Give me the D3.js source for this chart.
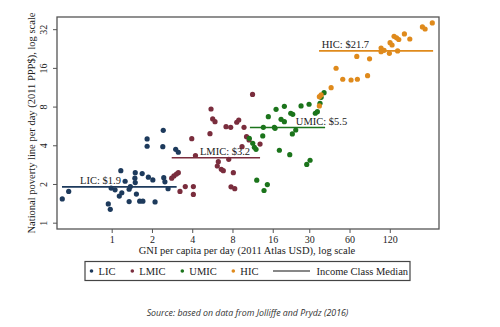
<!DOCTYPE html>
<html><head><meta charset="utf-8">
<script src="https://cdn.jsdelivr.net/npm/d3@7"></script>
<style>body{margin:0;background:#fff;}svg{display:block;}</style>
</head><body>
<svg id="c" width="500" height="327"></svg>
<script>
// GNI per capita per day (x), national poverty line per day (y)
const licX = [0.427,0.477,0.943,0.976,0.99,1.06,1.17,1.14,1.19,1.26,1.35,1.35,1.38,1.50,1.49,1.50,1.53,1.62,1.71,1.69,1.88,2.03,2.11,1.84,1.84,2.43,2.41,2.45,2.50,2.64,3.01,3.15];
const licY = [1.53,1.75,1.40,1.27,1.86,1.80,2.54,1.61,1.71,2.10,1.46,1.82,1.91,2.45,2.22,2.05,1.67,1.47,1.47,2.41,2.26,2.15,1.45,4.48,3.93,5.23,3.90,2.24,2.08,1.84,3.72,3.53];
const lmicX = [2.81,2.92,3.05,3.15,3.24,3.55,4.08,4.08,4.23,3.97,5.43,5.53,5.69,5.92,6.27,6.16,6.60,6.83,7.50,7.16,7.76,8.61,8.91,8.12,7.80,8.32,9.43,9.76,10.19,10.64,11.30,12.86];
const lmicY = [2.22,2.31,2.39,2.45,1.75,1.91,1.91,1.66,3.33,4.50,4.92,7.66,6.41,6.10,2.98,2.76,2.60,2.54,3.11,5.58,5.52,6.04,6.29,2.45,1.90,1.84,3.90,5.52,4.67,4.40,9.94,4.09];
const umicX = [10.69,11.34,11.66,12.0,13.47,13.61,14.83,16.45,16.94,17.93,18.46,19.54,19.54,21.44,21.81,22.58,22.42,23.77,26.05,28.73,29.9,30.42,33.3,34.5,36.1,36.8,38.7,12.15,14.58,13.77,16.65];
const umicY = [4.53,4.15,3.86,3.72,4.73,5.52,6.68,5.52,7.62,3.66,6.37,6.10,8.04,3.38,7.10,6.97,4.90,5.26,8.09,2.84,8.34,3.06,7.10,7.30,8.49,9.45,10.26,2.14,1.98,1.78,5.42];
const hicX = [35.7,36.8,35.7,43.7,47.6,53.4,61.6,68.7,81.9,68.0,84.7,103.3,103.3,108.8,119.2,137.3,120.6,124.8,129.2,134.9,140.1,154.3,169.4,210.4,220.4,249.5];
const hicY = [9.55,9.85,8.09,11.22,15.89,13.05,12.88,13.05,13.91,19.63,18.83,22.85,21.39,21.93,20.78,21.66,25.13,24.11,28.18,27.43,26.61,29.37,26.85,33.3,32.1,35.8];

const classNames = ["LIC","LMIC","UMIC","HIC"];
const classColors = ["#1d3a5c","#7a2d3d","#1b741b","#df8a1c"];
const medians = [1.9,3.2,5.5,21.7];
const medianLabels = ["LIC: $1.9","LMIC: $3.2","UMIC: $5.5","HIC: $21.7"];
const medianFrom = [0.425,2.81,10.8,35.5];
const medianTo = [3.06,12.86,39.4,253];
const xTicks = [1,2,4,8,16,30,60,120];
const yTicks = [1,2,4,8,16,32];

const svg = d3.select("#c");
const L=57,T=17,R=439,B=229;
const x = d3.scaleLog().domain([0.39,280]).range([L,R]);
const y = d3.scaleLog().domain([0.893,39.8]).range([B,T]);
const serif = "'Liberation Serif','Times New Roman',serif";

// frame
svg.append("rect").attr("x",L).attr("y",T).attr("width",R-L).attr("height",B-T)
  .attr("fill","none").attr("stroke","#555").attr("stroke-width",1.3);

// x axis
const xa = svg.append("g").attr("transform",`translate(0,${B})`)
  .call(d3.axisBottom(x).tickValues(xTicks).tickFormat(d3.format("d")).tickSize(4).tickPadding(3));
xa.select(".domain").remove();
xa.selectAll("line").attr("stroke","#555");
xa.selectAll("text").attr("font-family",serif).attr("font-size",10).attr("fill","#222");

// y axis
const ya = svg.append("g").attr("transform",`translate(${L},0)`)
  .call(d3.axisLeft(y).tickValues(yTicks).tickFormat(d3.format("d")).tickSize(4));
ya.select(".domain").remove();
ya.selectAll("line").attr("stroke","#555");
ya.selectAll("text").attr("font-family",serif).attr("font-size",10).attr("fill","#222")
  .attr("x",null).attr("dy",null)
  .attr("text-anchor","middle")
  .attr("transform","translate(-10,0) rotate(-90)");

// axis titles
svg.append("text").attr("x",247).attr("y",254).attr("text-anchor","middle")
  .attr("font-family",serif).attr("font-size",10.5).attr("fill","#222")
  .text("GNI per capita per day (2011 Atlas USD), log scale");
svg.append("text").attr("transform","translate(35,123) rotate(-90)").attr("text-anchor","middle")
  .attr("font-family",serif).attr("font-size",10.5).attr("fill","#222")
  .text("National poverty line per day (2011 PPP$), log scale");

// points
const series = [[licX,licY],[lmicX,lmicY],[umicX,umicY],[hicX,hicY]];
series.forEach((s,i)=>{
  const pts = s[0].map((v,j)=>[v,s[1][j]]);
  svg.append("g").selectAll("circle").data(pts).join("circle")
    .attr("cx",d=>x(d[0])).attr("cy",d=>y(d[1])).attr("r",2.6)
    .attr("fill",classColors[i]);
});

// median lines + labels
medians.forEach((m,i)=>{
  svg.append("line").attr("x1",x(medianFrom[i])).attr("x2",x(medianTo[i]))
    .attr("y1",y(m)).attr("y2",y(m)).attr("stroke",classColors[i]).attr("stroke-width",1.6);
});
const labelAt = [0.58,4.57,23.8,37.2];
medians.forEach((m,i)=>{
  svg.append("text").attr("x",x(labelAt[i])).attr("y",y(m)-2.5)
    .attr("font-family",serif).attr("font-size",10.5).attr("fill","#222")
    .text(medianLabels[i]);
});

// legend
const lg = svg.append("g");
lg.append("rect").attr("x",85).attr("y",261.5).attr("width",325).attr("height",19)
  .attr("fill","#fff").attr("stroke","#444").attr("stroke-width",1.2);
const legX = [91.5,132.3,182.3,233.3];
classNames.forEach((n,i)=>{
  lg.append("circle").attr("cx",legX[i]).attr("cy",271).attr("r",1.8).attr("fill",classColors[i]);
  lg.append("text").attr("x",legX[i]+7).attr("y",274.5).attr("font-family",serif)
    .attr("font-size",10.5).attr("fill","#222").text(n);
});
lg.append("line").attr("x1",273).attr("x2",310).attr("y1",271).attr("y2",271)
  .attr("stroke","#111").attr("stroke-width",1.2);
lg.append("text").attr("x",316.5).attr("y",274.5).attr("font-family",serif)
  .attr("font-size",10.5).attr("fill","#222").text("Income Class Median");

// source
svg.append("text").attr("x",247.5).attr("y",315.5).attr("text-anchor","middle")
  .attr("font-family","'Open Sans',sans-serif").attr("font-style","italic")
  .attr("font-size",8.8).attr("fill","#333")
  .text("Source: based on data from Jolliffe and Prydz (2016)");
</script>
</body></html>
